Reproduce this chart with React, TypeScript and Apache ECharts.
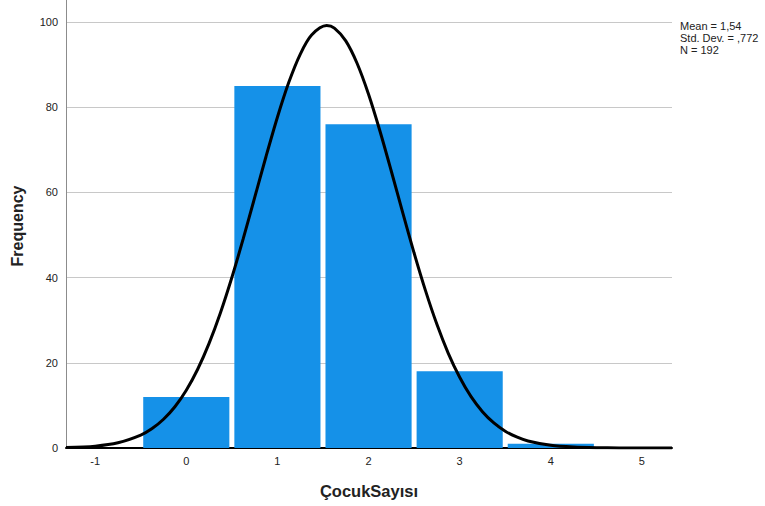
import React, { useEffect, useRef } from "react";
import * as echarts from "echarts";

const binCenters = [0, 1, 2, 3, 4];
const frequencies = [12, 85, 76, 18, 1];
const xTickValues = [-1, 0, 1, 2, 3, 4, 5];
const yTickValues = [0, 20, 40, 60, 80, 100];
const curveX = [-1.32, -1.0, -0.75, -0.5, -0.375, -0.25, -0.125, 0, 0.125, 0.25, 0.375, 0.5, 0.625, 0.75, 0.875, 1.0, 1.125, 1.25, 1.375, 1.54, 1.625, 1.75, 1.875, 2.0, 2.125, 2.25, 2.375, 2.5, 2.625, 2.75, 2.875, 3.0, 3.125, 3.25, 3.375, 3.5, 3.625, 3.75, 4.0, 4.25, 4.5, 4.75, 5.0, 5.33];
const curveY = [0.1, 0.44, 1.22, 3.03, 4.57, 6.75, 9.69, 13.56, 18.49, 24.56, 31.77, 40.04, 49.15, 58.77, 68.45, 77.67, 85.86, 92.45, 96.96, 99.2, 98.6, 95.6, 90.29, 83.07, 74.44, 64.99, 55.27, 45.78, 36.95, 29.04, 22.24, 16.6, 12.05, 8.53, 5.88, 3.95, 2.59, 1.65, 0.62, 0.21, 0.06, 0.02, 0.0, 0.0];
const statsLines = ["Mean = 1,54", "Std. Dev. = ,772", "N = 192"];
const xTitle = "ÇocukSayısı";
const yTitle = "Frequency";

const FONT = "'Liberation Sans', Arial, sans-serif";

export default function App() {
  const ref = useRef<HTMLDivElement>(null);
  useEffect(() => {
    if (!ref.current) return;
    const chart = echarts.init(ref.current, null, { renderer: "svg" });
    const barData = binCenters.map((c, i) => [c, frequencies[i]]);
    const lineData = curveX.map((x, i) => [x, curveY[i]]);
    chart.setOption({
      animation: false,
      backgroundColor: "#ffffff",
      grid: { left: 66, right: 93, top: 0, height: 448 },
      xAxis: {
        type: "value",
        min: -1.32,
        max: 5.33,
        axisLine: { show: true, onZero: false, lineStyle: { color: "#000000", width: 2 } },
        axisTick: { show: false, customValues: xTickValues },
        axisLabel: {
          customValues: xTickValues,
          color: "#222",
          fontFamily: FONT,
          fontSize: 11,
          margin: 7,
        },
        splitLine: { show: false },
      },
      yAxis: {
        type: "value",
        min: 0,
        max: 105.2,
        axisLine: { show: true, onZero: false, lineStyle: { color: "#8c8c8c", width: 1 } },
        axisTick: { show: false, customValues: yTickValues },
        axisLabel: {
          customValues: yTickValues,
          color: "#222",
          fontFamily: FONT,
          fontSize: 11,
          margin: 8,
        },
        splitLine: { show: true, lineStyle: { color: "#c8c8c8", width: 1 } },
      },
      series: [
        {
          type: "custom",
          data: barData,
          z: 2,
          renderItem: (params: any, api: any) => {
            const c = api.value(0);
            const v = api.value(1);
            const p0 = api.coord([c - 0.5, 0]);
            const p1 = api.coord([c + 0.5, v]);
            const gap = 2.5;
            return {
              type: "rect",
              shape: {
                x: p0[0] + gap,
                y: p1[1],
                width: p1[0] - p0[0] - 2 * gap,
                height: p0[1] - p1[1],
              },
              style: { fill: "#1591e8" },
            };
          },
        },
        {
          type: "line",
          data: lineData,
          smooth: 0.3,
          showSymbol: false,
          symbol: "none",
          z: 5,
          lineStyle: { color: "#000000", width: 3 },
        },
      ],
      graphic: [
        {
          type: "text",
          x: 17,
          y: 226,
          rotation: Math.PI / 2,
          style: {
            text: yTitle,
            font: `bold 16px ${FONT}`,
            fill: "#222",
            align: "center",
            verticalAlign: "middle",
          },
        },
        {
          type: "text",
          x: 369,
          y: 491,
          style: {
            text: xTitle,
            font: `bold 16.5px ${FONT}`,
            fill: "#222",
            align: "center",
            verticalAlign: "middle",
          },
        },
        ...statsLines.map((t, i) => ({
          type: "text",
          left: 680,
          top: 20 + i * 12,
          style: {
            text: t,
            font: `11px ${FONT}`,
            fill: "#222",
          },
        })),
      ],
    });
    return () => chart.dispose();
  }, []);
  return (
    <div
      ref={ref}
      style={{ position: "fixed", left: 0, top: 0, width: 765, height: 506 }}
    />
  );
}
